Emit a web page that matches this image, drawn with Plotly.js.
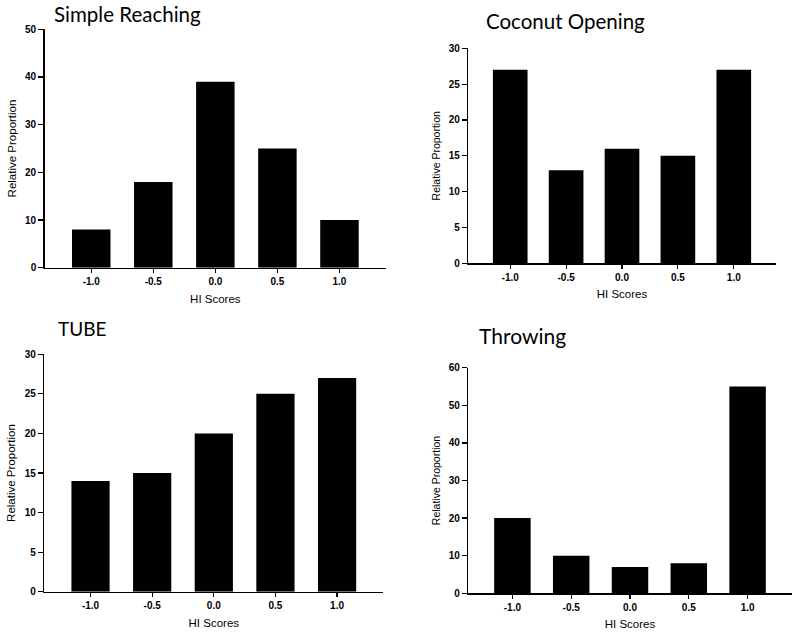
<!DOCTYPE html>
<html>
<head>
<meta charset="utf-8">
<script src="https://cdn.plot.ly/plotly-3.0.1.min.js"></script>
<style>html,body{margin:0;padding:0;background:#fff}#chart{width:800px;height:634px}</style>
</head>
<body>
<div id="chart"></div>
<script>
const categories = ["-1.0", "-0.5", "0.0", "0.5", "1.0"];
const simpleReaching = [8, 18, 39, 25, 10];
const coconutOpening = [27, 13, 16, 15, 27];
const tube = [14, 15, 20, 25, 27];
const throwing = [20, 10, 7, 8, 55];
const panelTitles = ["Simple Reaching", "Coconut Opening", "TUBE", "Throwing"];
const xTitle = "HI Scores";
const yTitle = "Relative Proportion";

const series = [simpleReaching, coconutOpening, tube, throwing];
const yRanges = [[0, 50], [0, 30], [0, 30], [0, 60]];
const yDticks = [10, 5, 5, 10];
const W = 800, H = 634;
// pixel boxes of plot areas [left, right, top, bottom]
const boxes = [
  [44.7, 386, 29.3, 267.7],
  [468.3, 775.7, 48.3, 263.3],
  [44.3, 383.3, 354.3, 591.7],
  [468.3, 791.7, 367.7, 593.3]
];
const titlePos = [[127, 14], [565.5, 21], [81.5, 328], [522.5, 335]];
const titleFs = [20.5, 20.5, 19, 21];
const yTitleFs = [11.5, 10.5, 11.5, 10.5];

const data = [];
const layout = {
  width: W, height: H,
  margin: {l: 0, r: 0, t: 0, b: 0},
  paper_bgcolor: "#fff", plot_bgcolor: "#fff",
  showlegend: false,
  bargap: 0.38,
  annotations: []
};
series.forEach((vals, i) => {
  const n = i + 1;
  const xa = n === 1 ? "x" : "x" + n;
  const ya = n === 1 ? "y" : "y" + n;
  data.push({
    type: "bar", x: categories, y: vals, xaxis: xa, yaxis: ya,
    marker: {color: "#000", line: {color: "#000", width: 0}},
    hoverinfo: "x+y"
  });
  const b = boxes[i];
  const axFont = {family: "Liberation Sans, Arial, sans-serif", size: 10, color: "#000", weight: "bold"};
  layout["xaxis" + (n === 1 ? "" : n)] = {
    domain: [b[0] / W, b[1] / W],
    anchor: ya,
    type: "category",
    range: [-0.75, 4.75],
    showline: true, linecolor: "#000", linewidth: 1.5,
    ticks: "outside", ticklen: 4, tickwidth: 1.2, tickcolor: "#000",
    showgrid: false, zeroline: false,
    tickfont: axFont,
    title: {text: xTitle, font: {family: "Liberation Sans, Arial, sans-serif", size: 11.5, color: "#000"}, standoff: 8}
  };
  layout["yaxis" + (n === 1 ? "" : n)] = {
    domain: [1 - b[3] / H, 1 - b[2] / H],
    anchor: xa,
    range: yRanges[i], dtick: yDticks[i], tick0: 0,
    showline: true, linecolor: "#000", linewidth: 1.5,
    ticks: "outside", ticklen: 5, tickwidth: 1.2, tickcolor: "#000",
    showgrid: false, zeroline: false,
    tickfont: axFont,
    title: {text: yTitle, font: {family: "Liberation Sans, Arial, sans-serif", size: yTitleFs[i], color: "#000"}, standoff: 6}
  };
  layout.annotations.push({
    text: panelTitles[i], xref: "paper", yref: "paper",
    x: titlePos[i][0] / W, y: 1 - titlePos[i][1] / H,
    xanchor: "center", yanchor: "middle", showarrow: false,
    font: {family: "Lato, Carlito, sans-serif", size: titleFs[i], color: "#000"}
  });
});
Plotly.newPlot("chart", data, layout, {displayModeBar: false, staticPlot: true});
</script>
</body>
</html>
